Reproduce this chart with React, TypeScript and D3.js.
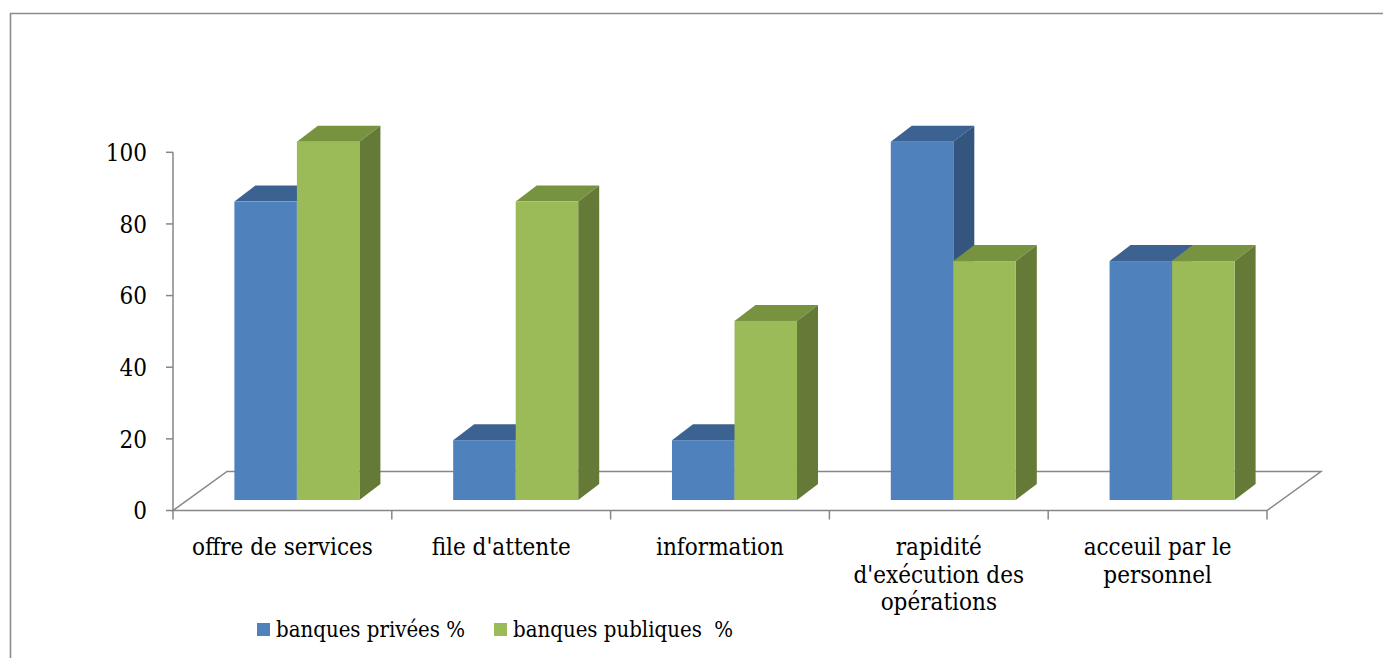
import React from "react";
import * as d3 from "d3";

// Survey results: share of satisfied clients per criterion (%)
const categories: string[][] = [
  ["offre de services"],
  ["file d'attente"],
  ["information"],
  ["rapidité", "d'exécution des", "opérations"],
  ["acceuil par le", "personnel"],
];
const seriesNames = ["banques privées %", "banques publiques  %"];
const privees = [83.3, 16.7, 16.7, 100, 66.7];
const publiques = [100, 83.3, 50, 66.7, 66.7];
const yTicks = [0, 20, 40, 60, 80, 100];

const W = 1383;
const H = 658;

const palette = [
  { front: "#4F81BD", top: "#3C6291", side: "#33557E" },
  { front: "#9BBB59", top: "#77933F", side: "#667A38" },
];

const FONT = "'DejaVu Serif Condensed', 'DejaVu Serif', serif";

export default function App() {
  const x0 = 173;
  const x1 = 1267;
  const yBase = 510.5;
  const yTop = 152.3;
  // oblique depth of the floor and of the bars
  const floorDx = 54;
  const floorDy = -39;
  const barFrontDx = 14.5;
  const barFrontDy = -10.5;
  const barDx = 21;
  const barDy = -16;

  const keys = categories.map((c) => c.join(" "));
  const x = d3.scaleBand<string>().domain(keys).range([x0, x1]).padding(0);
  const inner = d3
    .scaleBand<string>()
    .domain(seriesNames)
    .range([0, x.bandwidth()])
    .paddingInner(0)
    .paddingOuter(0.75);
  const y = d3.scaleLinear().domain([0, 100]).range([yBase, yTop]);

  const data = [privees, publiques];
  const axisColor = "#868686";

  const bars: React.ReactNode[] = [];
  keys.forEach((k, ci) => {
    seriesNames.forEach((s, si) => {
      const v = data[si][ci];
      const bx = (x(k) as number) + (inner(s) as number) + barFrontDx;
      const bw = inner.bandwidth();
      const by0 = y(0) + barFrontDy;
      const by1 = y(v) + barFrontDy;
      const c = palette[si];
      const top = [
        [bx, by1],
        [bx + bw, by1],
        [bx + bw + barDx, by1 + barDy],
        [bx + barDx, by1 + barDy],
      ];
      const side = [
        [bx + bw, by1],
        [bx + bw + barDx, by1 + barDy],
        [bx + bw + barDx, by0 + barDy],
        [bx + bw, by0],
      ];
      bars.push(
        <g key={`${ci}-${si}`}>
          <polygon points={top.map((p) => p.join(",")).join(" ")} fill={c.top} />
          <polygon points={side.map((p) => p.join(",")).join(" ")} fill={c.side} />
          <rect x={bx} y={by1} width={bw} height={by0 - by1} fill={c.front} />
        </g>
      );
    });
  });

  const floor = [
    [x0, yBase],
    [x1, yBase],
    [x1 + floorDx, yBase + floorDy],
    [x0 + floorDx, yBase + floorDy],
  ];

  return (
    <svg
      width={W}
      height={H}
      style={{ position: "absolute", left: 0, top: 0, background: "#fff" }}
      fontFamily={FONT}
    >
      {/* chart area frame */}
      <path d={`M10.5,${H} V13.5 H${W}`} fill="none" stroke="#8c8c8c" strokeWidth={1.6} />

      {/* floor */}
      <polygon
        points={floor.map((p) => p.join(",")).join(" ")}
        fill="none"
        stroke={axisColor}
        strokeWidth={1.5}
      />

      {/* value axis */}
      <line x1={x0} x2={x0} y1={yTop} y2={yBase} stroke={axisColor} strokeWidth={1.5} />
      {yTicks.map((t) => (
        <g key={t}>
          <line x1={x0 - 7} x2={x0} y1={y(t)} y2={y(t)} stroke={axisColor} strokeWidth={1.5} />
          <text
            x={147}
            y={y(t)}
            dy="0.36em"
            textAnchor="end"
            fontSize={24}
            fontStretch="condensed"
            fill="#000"
          >
            {t}
          </text>
        </g>
      ))}

      {/* category axis ticks */}
      {[...keys.map((k) => x(k) as number), x1].map((tx, i) => (
        <line key={i} x1={tx} x2={tx} y1={yBase} y2={yBase + 9} stroke={axisColor} strokeWidth={1.5} />
      ))}

      {bars}

      {/* category labels */}
      {categories.map((lines, ci) => (
        <text
          key={ci}
          x={(x(keys[ci]) as number) + x.bandwidth() / 2}
          y={555}
          textAnchor="middle"
          fontSize={24}
          fontStretch="condensed"
          fill="#000"
        >
          {lines.map((l, li) => (
            <tspan key={li} x={(x(keys[ci]) as number) + x.bandwidth() / 2} dy={li === 0 ? 0 : 27.5}>
              {l}
            </tspan>
          ))}
        </text>
      ))}

      {/* legend */}
      {seriesNames.map((s, si) => {
        const lx = [257, 494][si];
        return (
          <g key={s}>
            <rect x={lx} y={623} width={13} height={13} fill={palette[si].front} />
            <text x={lx + 19} y={637} fontSize={22} fontStretch="condensed" fill="#000" style={{ whiteSpace: "pre" }}>
              {s}
            </text>
          </g>
        );
      })}
    </svg>
  );
}
